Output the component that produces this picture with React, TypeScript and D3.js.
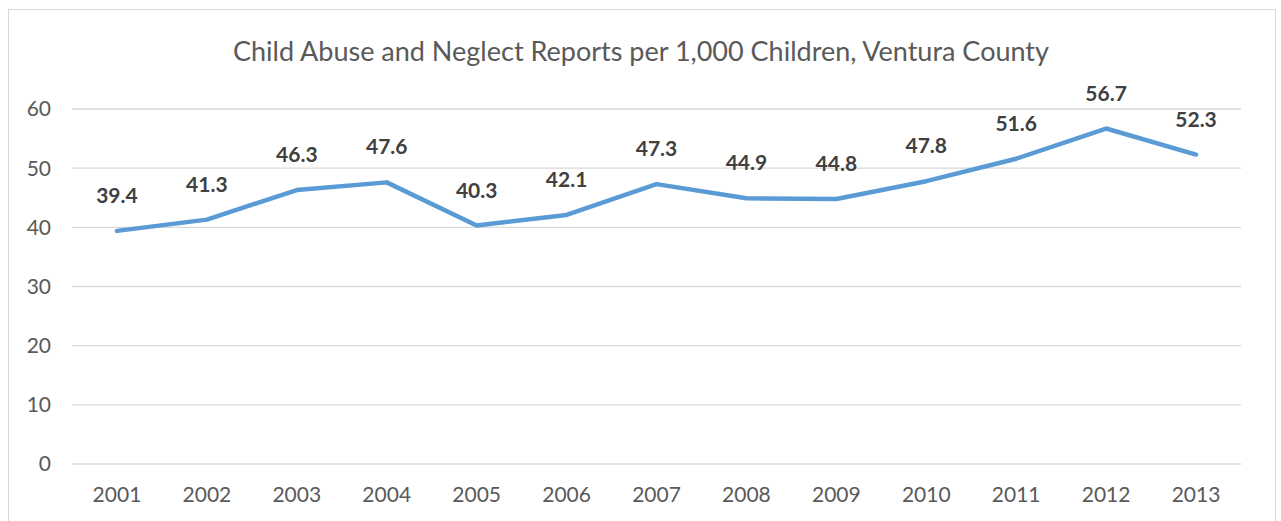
import React from "react";
import * as d3 from "d3";

const years = ["2001","2002","2003","2004","2005","2006","2007","2008","2009","2010","2011","2012","2013"];
const values = [39.4, 41.3, 46.3, 47.6, 40.3, 42.1, 47.3, 44.9, 44.8, 47.8, 51.6, 56.7, 52.3];
const yTicks = [0, 10, 20, 30, 40, 50, 60];
const title = "Child Abuse and Neglect Reports per 1,000 Children, Ventura County";

const W = 1281, H = 521;
const FONT = "Lato, 'Open Sans', sans-serif";

export default function App() {
  const left = 72, right = 1241, top = 109, bottom = 464;
  const x = d3.scaleBand().domain(years).range([left, right]);
  const y = d3.scaleLinear().domain([0, 60]).range([bottom, top]);
  const cx = (d: string) => (x(d) as number) + x.bandwidth() / 2;
  const line = d3.line<number>().x((_, i) => cx(years[i])).y((v) => y(v));
  return (
    <svg width={W} height={H} style={{ position: "absolute", left: 0, top: 0, background: "#fff" }}>
      <rect x={8.5} y={9.5} width={1267} height={530} fill="#fff" stroke="#d9d9d9" strokeWidth={1} />
      <text x={641} y={61} textAnchor="middle" fontFamily={FONT} fontSize={27} fill="#595959">{title}</text>
      {yTicks.map((t) => (
        <g key={t}>
          <line x1={left} x2={right} y1={y(t)} y2={y(t)} stroke="#d9d9d9" strokeWidth={1.3} />
          <text x={51} y={y(t)} dy="0.35em" textAnchor="end" fontFamily={FONT} fontSize={21} fill="#595959">{t}</text>
        </g>
      ))}
      {years.map((yr) => (
        <text key={yr} x={cx(yr)} y={502} textAnchor="middle" fontFamily={FONT} fontSize={21} fill="#595959">{yr}</text>
      ))}
      <path d={line(values) || ""} fill="none" stroke="#5b9bd5" strokeWidth={4.5} strokeLinejoin="round" strokeLinecap="round" />
      {values.map((v, i) => (
        <text key={i} x={cx(years[i])} y={y(v) - 28} textAnchor="middle" fontFamily={FONT} fontSize={21} fontWeight="bold" fill="#404040">{v.toFixed(1)}</text>
      ))}
    </svg>
  );
}
